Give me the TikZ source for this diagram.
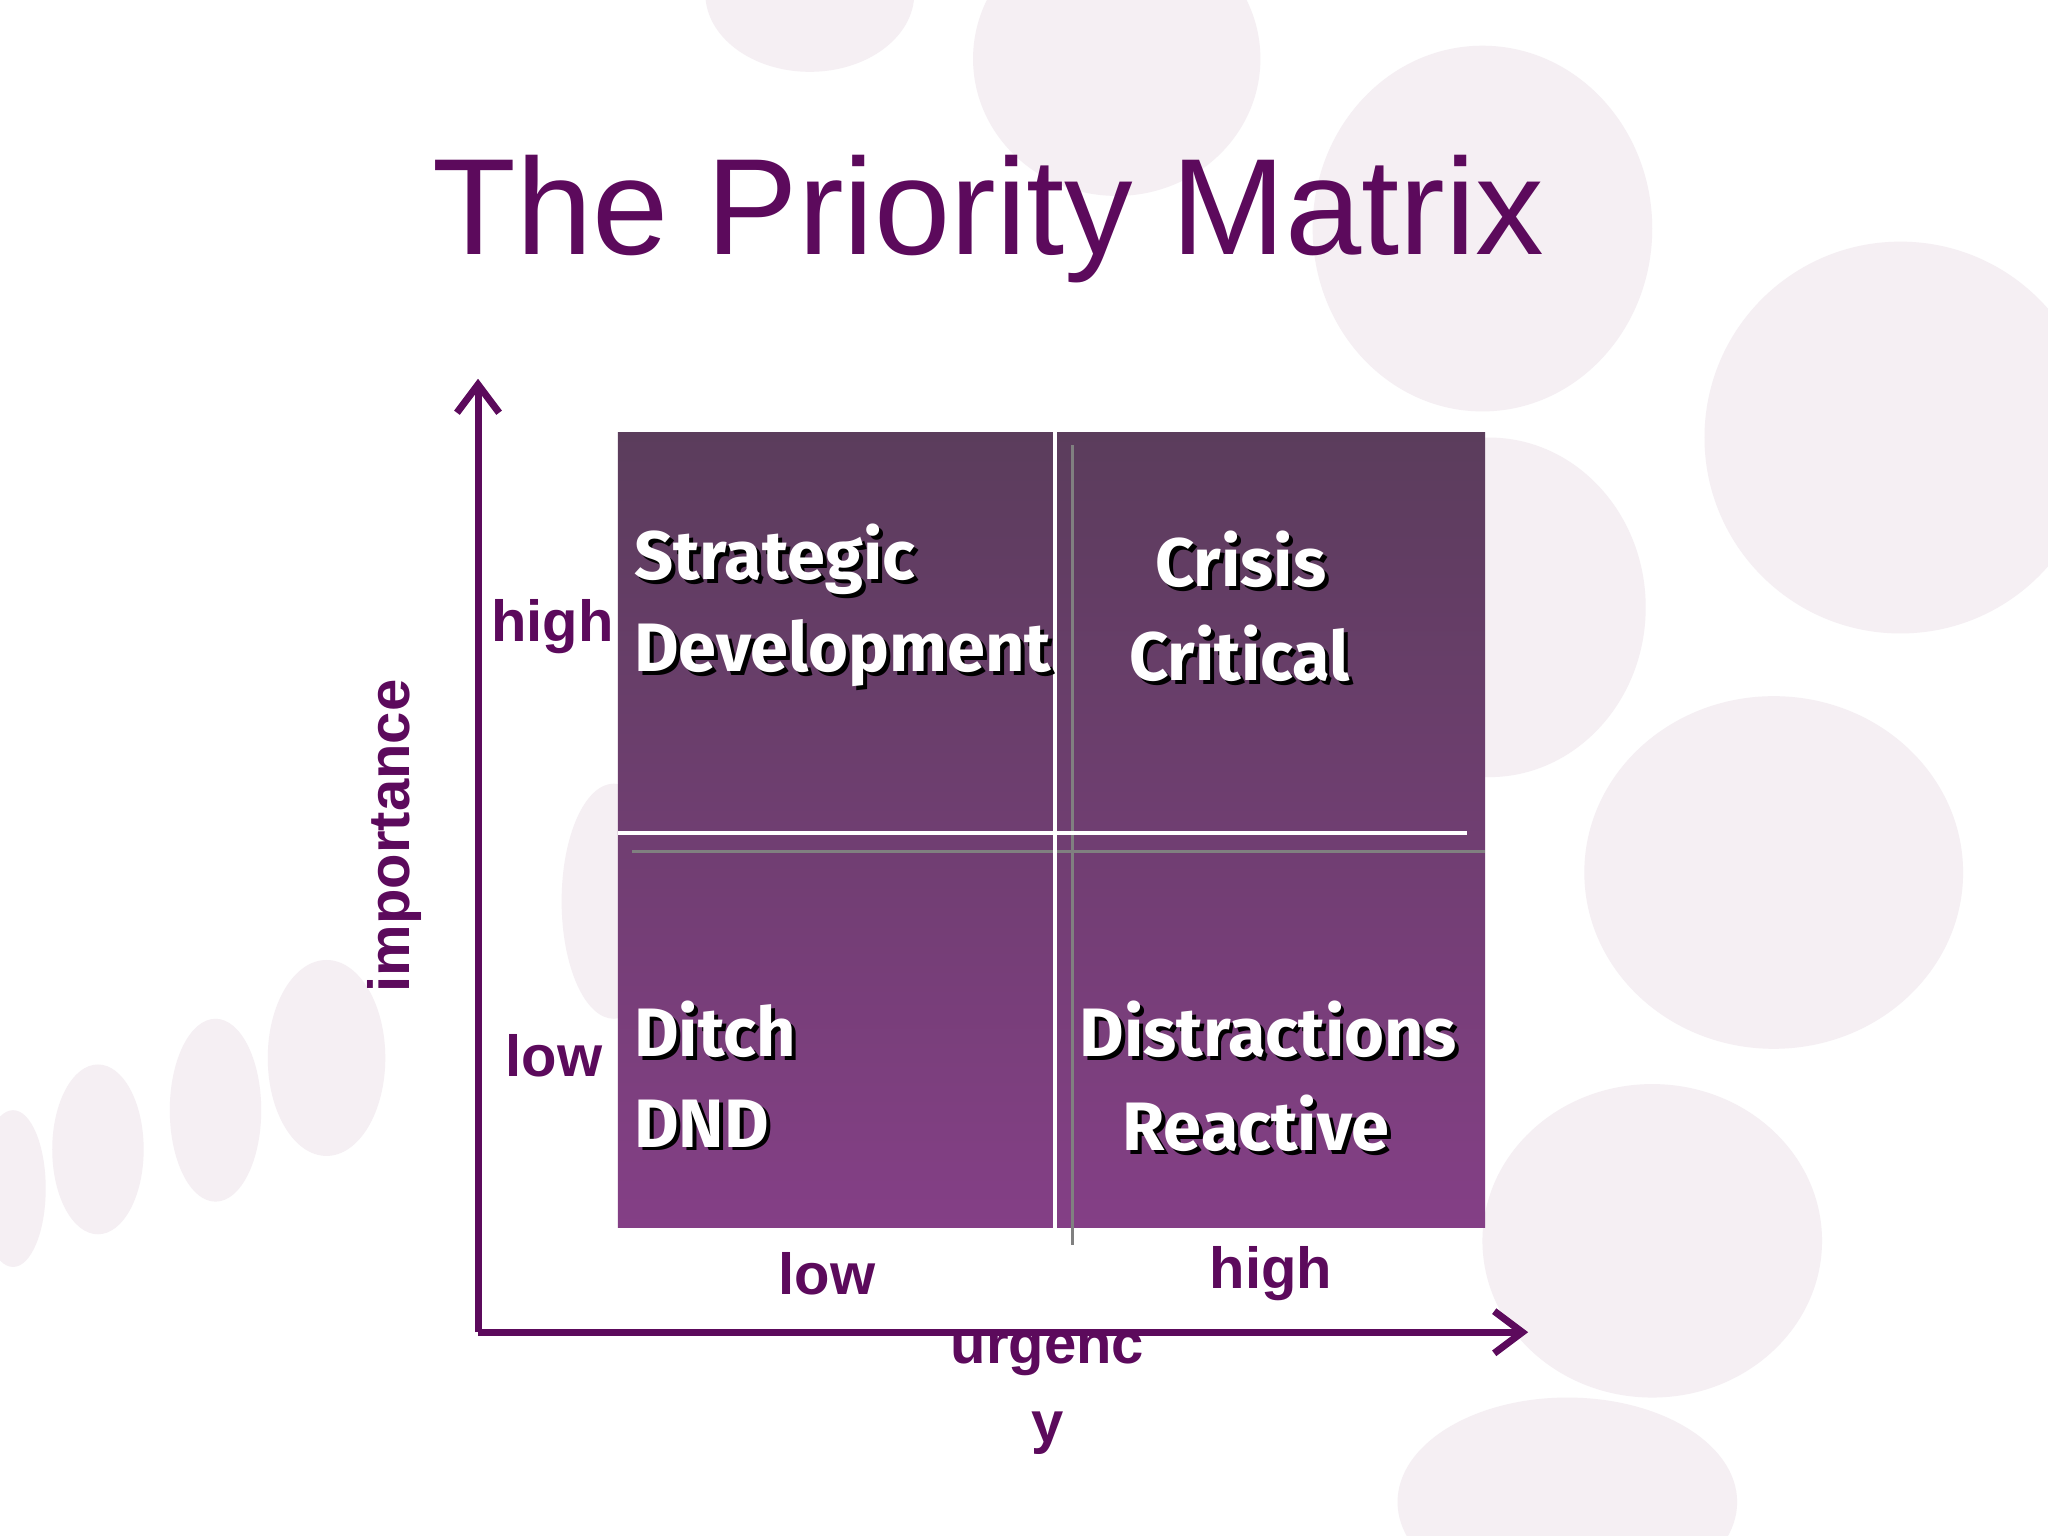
\documentclass[tikz,border=0pt]{standalone}
\usepackage{fontspec}
\usetikzlibrary{arrows.meta}
\setmainfont{Liberation Sans}
\newfontfamily\qfont{Fira Sans}
\begin{document}
\begin{tikzpicture}[x=0.013061cm,y=-0.013061cm,
  bub/.style={fill=bubc,draw=none},
  lab/.style={text=axc,font=\fontsize{16.5}{18}\selectfont\bfseries},
  qt/.style={text=white,font=\qfont\fontsize{19.5}{24}\selectfont\bfseries,anchor=west,inner sep=0pt},
  qs/.style={text=black,font=\qfont\fontsize{19.5}{24}\selectfont\bfseries,anchor=west,inner sep=0pt}]
\definecolor{bubc}{HTML}{F5EFF3}
\definecolor{axc}{HTML}{5C0A5C}
\definecolor{qtop}{HTML}{5B3D5C}
\definecolor{qbot}{HTML}{843F86}
\useasboundingbox (0,0) rectangle (1568,1176);
\fill[white] (0,0) rectangle (1568,1176);
\begin{scope}
\clip (0,0) rectangle (1568,1176);
\fill[bub] (620,-5) ellipse (80 and 60);
\fill[bub] (855,45) ellipse (110 and 105);
\fill[bub] (1135,175) ellipse (130 and 140);
\fill[bub] (1455,335) ellipse (150 and 150);
\fill[bub] (1140,465) ellipse (120 and 130);
\fill[bub] (1358,668) ellipse (145 and 135);
\fill[bub] (1265,950) ellipse (130 and 120);
\fill[bub] (1200,1150) ellipse (130 and 80);
\fill[bub] (470,690) ellipse (40 and 90);
\fill[bub] (250,810) ellipse (45 and 75);
\fill[bub] (165,850) ellipse (35 and 70);
\fill[bub] (75,880) ellipse (35 and 65);
\fill[bub] (10,910) ellipse (25 and 60);
\end{scope}
\node[text=axc,font=\fontsize{39}{44}\selectfont] (title) at (757,168) {The Priority Matrix};
\shade[top color=qtop,bottom color=qbot] (473,331) rectangle (1137,940);
\draw[gray,line width=2.5pt*0.37] (821,341) -- (821,953);
\draw[gray,line width=2.5pt*0.37] (484,652) -- (1137,652);
\draw[white,line width=3pt*0.37] (808,331) -- (808,940);
\draw[white,line width=3pt*0.37] (473,638) -- (1123,638);
\foreach \t/\x/\y in {Strategic/485/428,Development/485/500,Crisis/884/428,Critical/864/500,Ditch/485/788,DND/485/860,Distractions/826/788,Reactive/859/860}{
  \node[qs] at (\x+3,\y+3) {\t};
  \node[qt] (q\t) at (\x,\y) {\t};
}
\coordinate (o) at (366,1020);
\coordinate (ytop) at (366,290);
\coordinate (xend) at (1170,1020);
\draw[axc,line width=2pt,-{Straight Barb[length=8pt,width=12pt]}] (o) -- (ytop);
\draw[axc,line width=2pt,-{Straight Barb[length=8pt,width=12pt]}] (o) -- (xend);
\node[lab] (h1) at (423,480) {high};
\node[lab] (l1) at (424,808) {low};
\node[lab] (l2) at (633,975) {low};
\node[lab] (h2) at (973,975) {high};
\node[lab] (u1) at (802,1037) {urgenc};
\node[lab] (u2) at (802,1097) {y};
\node[lab,rotate=90] (imp) at (302,640) {importance};
\end{tikzpicture}
\end{document}
